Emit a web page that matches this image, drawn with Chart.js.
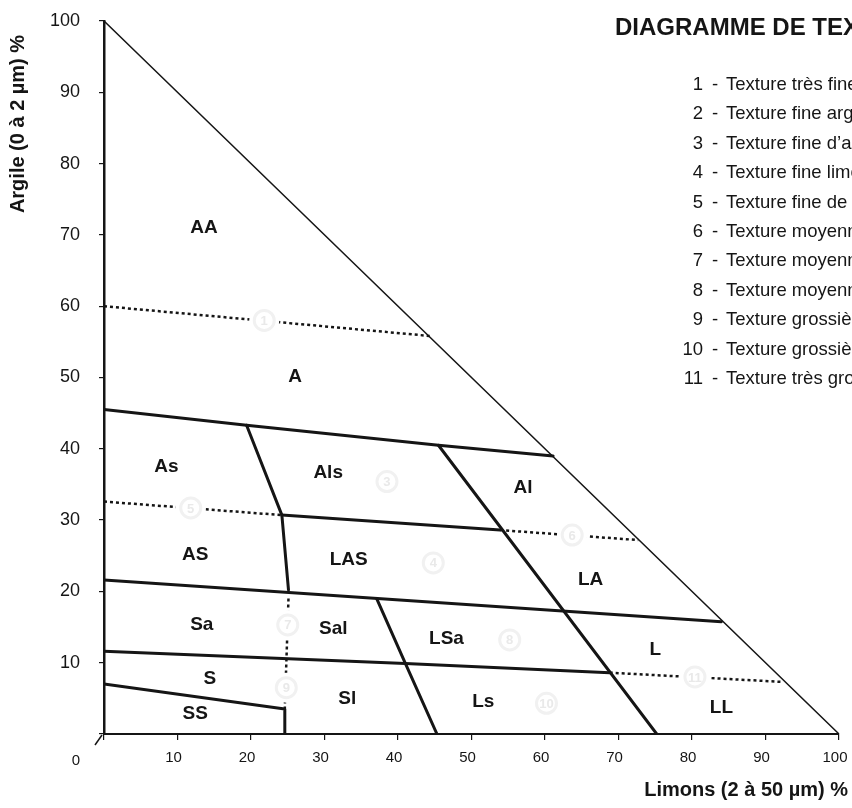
<!DOCTYPE html>
<html>
<head>
<meta charset="utf-8">
<script src="https://cdn.jsdelivr.net/npm/chart.js@4.4.1/dist/chart.umd.min.js"></script>
<style>
  html, body { margin: 0; padding: 0; background: #fff; }
</style>
</head>
<body>
<canvas id="texture" width="852" height="808"></canvas>
<script>
// GEPPA texture triangle: x = limons %, y = argile %

const limonTicks = [0, 10, 20, 30, 40, 50, 60, 70, 80, 90, 100];
const argileTicks = [0, 10, 20, 30, 40, 50, 60, 70, 80, 90, 100];

// solid boundaries [limons, argile]
const hypotenuse = [[0, 100], [100, 0]];
const borderA = [[0, 45.5], [19.4, 43.3], [45.5, 40.5], [61.1, 39.0]];
const borderAsAls = [[19.4, 43.3], [24.2, 30.7], [25.1, 20.2]];
const borderLAS = [[24.2, 30.7], [53.9, 28.6]];
const borderSa = [[0, 21.6], [84.0, 15.75]];
const borderS = [[0, 11.6], [41.0, 9.9], [68.8, 8.6]];
const borderSS = [[0, 7.0], [24.6, 3.5], [24.6, 0]];
const borderLSa = [[37.1, 19.0], [41.0, 9.9], [45.3, 0]];
const borderAl = [[45.5, 40.5], [75.2, 0]];

// dotted sub-boundaries
const dottedAA = [[0, 60], [44.6, 55.8]];
const dottedAS = [[0, 32.6], [24.2, 30.7]];
const dottedLA = [[53.9, 28.6], [72.7, 27.2]];
const dottedLL = [[68.8, 8.6], [92.4, 7.3]];
const dottedSal = [[25.1, 19.0], [24.6, 3.6]];

// class names
const zoneNames = ['AA', 'A', 'As', 'Als', 'Al', 'AS', 'LAS', 'LA', 'Sa', 'Sal', 'LSa', 'L', 'S', 'Sl', 'Ls', 'SS', 'LL'];
const zoneLimons = [13.6, 26.0, 8.5, 30.5, 57.0, 12.4, 33.3, 66.2, 13.3, 31.2, 46.6, 75.0, 14.4, 33.1, 51.6, 12.4, 84.0];
const zoneArgile = [71.0, 50.1, 37.5, 36.6, 34.5, 25.1, 24.5, 21.6, 15.3, 14.8, 13.4, 11.8, 7.7, 5.0, 4.5, 2.8, 3.7];

// faint circled texture numbers
const circleNums = ['1', '5', '3', '4', '6', '7', '8', '9', '10', '11'];
const circleLimons = [21.8, 11.8, 38.5, 44.8, 63.7, 25.0, 55.2, 24.8, 60.2, 80.4];
const circleArgile = [58.0, 31.7, 35.4, 24.0, 27.9, 15.3, 13.2, 6.5, 4.3, 8.0];

const legendNums = ['1', '2', '3', '4', '5', '6', '7', '8', '9', '10', '11'];
const legendTexts = [
    'Texture très fine',
    'Texture fine argileuse',
    'Texture fine d’argile limoneuse',
    'Texture fine limoneuse',
    'Texture fine de sable argileux',
    'Texture moyenne limono-argileuse',
    'Texture moyenne sableuse',
    'Texture moyenne limoneuse',
    'Texture grossière sableuse',
    'Texture grossière limoneuse',
    'Texture très grossière'
];

const titleText = 'DIAGRAMME DE TEXTURE';
const xTitle = 'Limons (2 à 50 µm) %';
const yTitle = 'Argile (0 à 2 µm) %';

const FONT = '"Liberation Sans", Arial, Helvetica, sans-serif';
const INK = '#151515';

function toPts(arr) {
    return arr.map(p => ({ x: p[0], y: p[1] }));
}

function line(arr, width, dashed) {
    return {
        data: toPts(arr),
        showLine: true,
        borderColor: INK,
        borderWidth: width,
        borderDash: dashed ? [3, 3] : [],
        pointRadius: 0,
        borderCapStyle: dashed ? 'butt' : 'round',
        borderJoinStyle: 'round',
        tension: 0
    };
}

const datasets = [
    line(hypotenuse, 1.5, false),
    line(borderA, 3, false),
    line(borderAsAls, 3, false),
    line(borderLAS, 3, false),
    line(borderSa, 3, false),
    line(borderS, 3, false),
    line(borderSS, 3, false),
    line(borderLSa, 3, false),
    line(borderAl, 3, false),
    line(dottedAA, 2.5, true),
    line(dottedAS, 2.5, true),
    line(dottedLA, 2.5, true),
    line(dottedLL, 2.5, true),
    line(dottedSal, 2.5, true)
];

// text overlays
const overlay = {
    id: 'overlay',
    afterDatasetsDraw(chart) {
        const { ctx, scales: { x, y } } = chart;
        ctx.save();
        ctx.textAlign = 'center';
        ctx.textBaseline = 'middle';

        circleNums.forEach((n, i) => {
            const px = x.getPixelForValue(circleLimons[i]);
            const py = y.getPixelForValue(circleArgile[i]);
            ctx.fillStyle = '#fff';
            ctx.beginPath();
            ctx.arc(px, py, 15, 0, Math.PI * 2);
            ctx.fill();
            ctx.strokeStyle = '#f1f1f1';
            ctx.lineWidth = 3;
            ctx.beginPath();
            ctx.arc(px, py, 10, 0, Math.PI * 2);
            ctx.stroke();
            ctx.fillStyle = '#e9e9e9';
            ctx.font = 'bold 13px ' + FONT;
            ctx.fillText(n, px, py + 1);
        });

        ctx.fillStyle = INK;
        ctx.font = 'bold 19px ' + FONT;
        zoneNames.forEach((n, i) => {
            ctx.fillText(n, x.getPixelForValue(zoneLimons[i]), y.getPixelForValue(zoneArgile[i]));
        });
        ctx.restore();
    },
    afterDraw(chart) {
        const { ctx, scales: { x, y } } = chart;
        ctx.save();
        ctx.fillStyle = INK;
        ctx.strokeStyle = INK;

        // shared origin label and its slanted tick
        const ox = x.getPixelForValue(0), oy = y.getPixelForValue(0);
        ctx.lineWidth = 1.5;
        ctx.beginPath();
        ctx.moveTo(ox - 2, oy + 1);
        ctx.lineTo(ox - 9, oy + 11);
        ctx.stroke();
        ctx.font = '15px ' + FONT;
        ctx.textAlign = 'center';
        ctx.textBaseline = 'middle';
        ctx.fillText('0', ox - 28, oy + 27);

        // title
        ctx.font = 'bold 24px ' + FONT;
        ctx.textAlign = 'left';
        ctx.fillText(titleText, 615, 28);

        // legend
        ctx.font = '18.5px ' + FONT;
        legendNums.forEach((n, i) => {
            const ly = 85 + i * 29.4;
            ctx.textAlign = 'right';
            ctx.fillText(n, 703, ly);
            ctx.textAlign = 'center';
            ctx.fillText('-', 715, ly);
            ctx.textAlign = 'left';
            ctx.fillText(legendTexts[i], 726, ly);
        });

        // axis titles
        ctx.font = 'bold 20px ' + FONT;
        ctx.textAlign = 'right';
        ctx.fillText(xTitle, 848, 790);

        ctx.translate(18, 124);
        ctx.rotate(-Math.PI / 2);
        ctx.textAlign = 'center';
        ctx.fillText(yTitle, 0, 0);
        ctx.restore();
    }
};

new Chart(document.getElementById('texture'), {
    type: 'scatter',
    data: { datasets },
    options: {
        responsive: false,
        animation: false,
        events: [],
        layout: { padding: { top: 21, right: 13, left: 0, bottom: 0 } },
        plugins: {
            legend: { display: false },
            tooltip: { enabled: false }
        },
        scales: {
            x: {
                type: 'linear',
                min: 0,
                max: 100,
                afterBuildTicks: s => { s.ticks = limonTicks.map(v => ({ value: v })); },
                afterFit: s => { s.height = 74; s.paddingLeft = 0; s.paddingRight = 0; },
                grid: { drawOnChartArea: false, drawTicks: true, tickLength: 6, color: INK, lineWidth: 1.2 },
                border: { display: true, color: INK, width: 2 },
                ticks: {
                    color: INK,
                    padding: 9,
                    labelOffset: -4,
                    maxRotation: 0,
                    font: { family: FONT, size: 15 },
                    callback: v => (v === 0 ? '' : v)
                }
            },
            y: {
                type: 'linear',
                min: 0,
                max: 100,
                afterBuildTicks: s => { s.ticks = argileTicks.map(v => ({ value: v })); },
                afterFit: s => { s.width = 104; s.paddingTop = 0; s.paddingBottom = 0; },
                grid: { drawOnChartArea: false, drawTicks: true, tickLength: 5, color: INK, lineWidth: 1.2 },
                border: { display: true, color: INK, width: 2.5 },
                ticks: {
                    color: INK,
                    padding: 19,
                    font: { family: FONT, size: 18 },
                    callback: v => (v === 0 ? '' : v)
                }
            }
        }
    },
    plugins: [overlay]
});
</script>
</body>
</html>
